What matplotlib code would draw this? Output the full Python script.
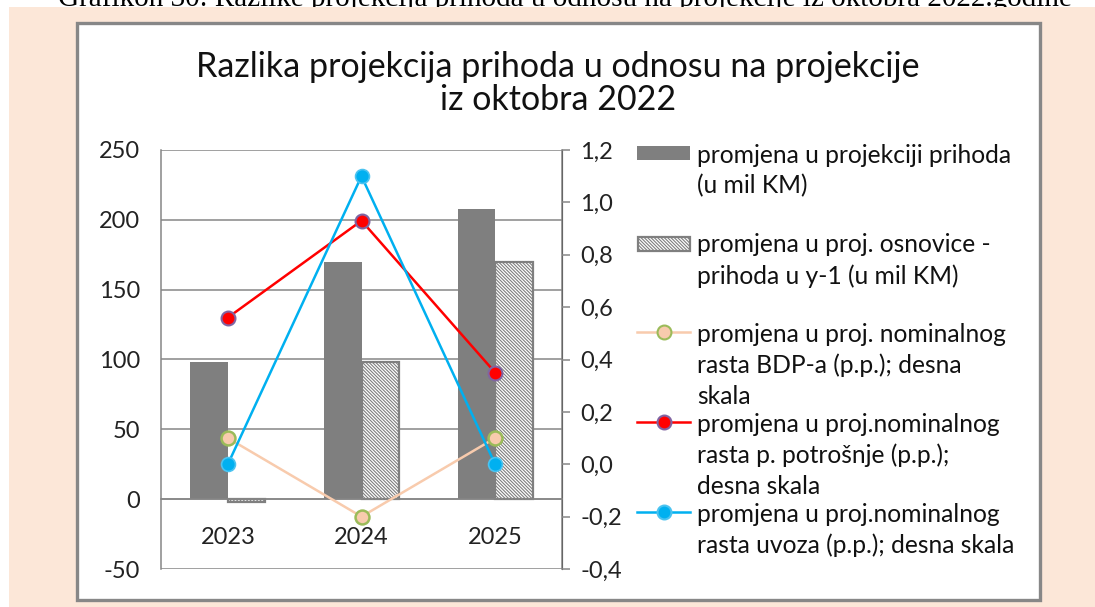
import numpy as np
import matplotlib.pyplot as plt
from matplotlib.patches import Rectangle
from matplotlib.lines import Line2D

plt.rcParams['font.family'] = ['Lato', 'DejaVu Sans']
plt.rcParams['hatch.linewidth'] = 0.8
plt.rcParams['axes.unicode_minus'] = False

years = ['2023', '2024', '2025']
prihodi = [98, 170, 208]
osnovica = [-2, 98, 170]
bdp = [0.10, -0.20, 0.10]
potrosnja = [0.56, 0.93, 0.35]
uvoz = [0.0, 1.10, 0.0]

labels = [
    ['promjena u projekciji prihoda', '(u mil KM)'],
    ['promjena u proj. osnovice -', 'prihoda u y-1 (u mil KM)'],
    ['promjena u proj. nominalnog', 'rasta BDP-a (p.p.); desna', 'skala'],
    ['promjena u proj.nominalnog', 'rasta p. potrošnje (p.p.);', 'desna skala'],
    ['promjena u proj.nominalnog', 'rasta uvoza (p.p.); desna skala'],
]

W, H = 1095, 607
fig = plt.figure(figsize=(W / 100, H / 100), dpi=100)

def fx(px):
    return px / W

def fy(py):
    return 1 - py / H

HATCH = '\\' * 10

# peach page background and white chart box
fig.patches.append(Rectangle((fx(9), 0), 1 - fx(9), fy(7), transform=fig.transFigure,
                             facecolor='#fce7d8', edgecolor='none', zorder=-20))
fig.patches.append(Rectangle((fx(77), fy(600)), fx(1040) - fx(77), fy(23) - fy(600),
                             transform=fig.transFigure, facecolor='white',
                             edgecolor='#878787', lw=2.4, zorder=-10))
fig.text(fx(565), fy(6), 'Grafikon 30: Razlike projekcija prihoda u odnosu na projekcije iz oktobra 2022.godine',
         family='Liberation Serif', fontsize=21, ha='center', va='baseline', zorder=-30)

ax1 = fig.add_axes([fx(161), fy(569), fx(562) - fx(161), fy(150) - fy(569)])
ax1.set_facecolor('none')
ax2 = ax1.twinx()

x = np.arange(len(years))
w = 0.28
ax1.bar(x - w / 2, prihodi, w, color='#7f7f7f', zorder=2)
ax1.bar(x + w / 2, osnovica, w, facecolor='white', edgecolor='#7f7f7f', hatch=HATCH,
        lw=1.6, zorder=2)

ax1.set_xlim(-0.5, 2.5)
ax1.set_ylim(-50, 250)
ax1.set_yticks(np.arange(-50, 251, 50))
ax1.yaxis.grid(True, color='#868686', lw=1.1, zorder=0)
ax1.set_axisbelow(True)
ax1.set_xticks(x)
ax1.set_xticklabels(years)
ax1.spines['bottom'].set_position(('data', 0))
ax1.spines['bottom'].set_color('#868686')
ax1.spines['bottom'].set_linewidth(1.1)
ax1.spines['left'].set_color('#868686')
ax1.spines['left'].set_linewidth(1.1)
ax1.spines['top'].set_visible(False)
ax1.tick_params(axis='both', length=0, labelsize=17, colors='#222222')
ax1.tick_params(axis='y', pad=15)
ax1.tick_params(axis='x', pad=20)

ax2.plot(x, bdp, color='#f8cbad', lw=1.8, marker='o', ms=10, mfc='#f8cbad',
         mec='#9bbb59', mew=1.8)
ax2.plot(x, potrosnja, color='#ff0000', lw=1.8, marker='o', ms=10, mfc='#ff0000',
         mec='#8064a2', mew=1.5)
ax2.plot(x, uvoz, color='#00b0f0', lw=1.8, marker='o', ms=10, mfc='#00b0f0',
         mec='#4bc3f0', mew=1.2)
ax2.set_ylim(-0.4, 1.2)
ax2.set_yticks(np.arange(-0.4, 1.21, 0.2))
ax2.set_yticklabels([f'{v:.1f}'.replace('.', ',') for v in np.arange(-0.4, 1.21, 0.2)])
for s in ['left', 'top', 'bottom']:
    ax2.spines[s].set_visible(False)
ax2.spines['right'].set_color('#868686')
ax2.spines['right'].set_linewidth(1.1)
ax2.tick_params(axis='y', length=6, width=1.1, color='#868686', labelsize=17,
                labelcolor='#222222', pad=7)

fig.text(fx(558), fy(67), 'Razlika projekcija prihoda u odnosu na projekcije',
         fontsize=24.5, ha='center', va='center', color='#111111')
fig.text(fx(558), fy(100), 'iz oktobra 2022', fontsize=24.5, ha='center', va='center',
         color='#111111')

# legend
tops = [155, 245, 334, 424, 514]
for i, (lines, ty) in enumerate(zip(labels, tops)):
    for j, t in enumerate(lines):
        fig.text(fx(697), fy(ty + 31 * j), t, fontsize=17.7, ha='left', va='center',
                 color='#111111')
    if i == 0:
        fig.patches.append(Rectangle((fx(637), fy(160)), fx(690) - fx(637), fy(146) - fy(160),
                                     transform=fig.transFigure, facecolor='#7f7f7f',
                                     edgecolor='none'))
    elif i == 1:
        fig.patches.append(Rectangle((fx(638), fy(251)), fx(690) - fx(638), fy(237) - fy(251),
                                     transform=fig.transFigure, facecolor='white',
                                     edgecolor='#7f7f7f', hatch=HATCH, lw=1.6))
style = {2: ('#f8cbad', '#f8cbad', '#9bbb59'), 3: ('#ff0000', '#ff0000', '#8064a2'),
         4: ('#00b0f0', '#00b0f0', '#4bc3f0')}
for i, (lc, fc, ec) in style.items():
    yy = fy(tops[i] - 2)
    fig.lines.append(Line2D([fx(637), fx(690)], [yy, yy], transform=fig.transFigure,
                            color=lc, lw=1.8))
    fig.lines.append(Line2D([fx(664)], [yy], transform=fig.transFigure, marker='o', ms=10,
                            mfc=fc, mec=ec, mew=1.5))

fig.savefig('out.png', dpi=100)
